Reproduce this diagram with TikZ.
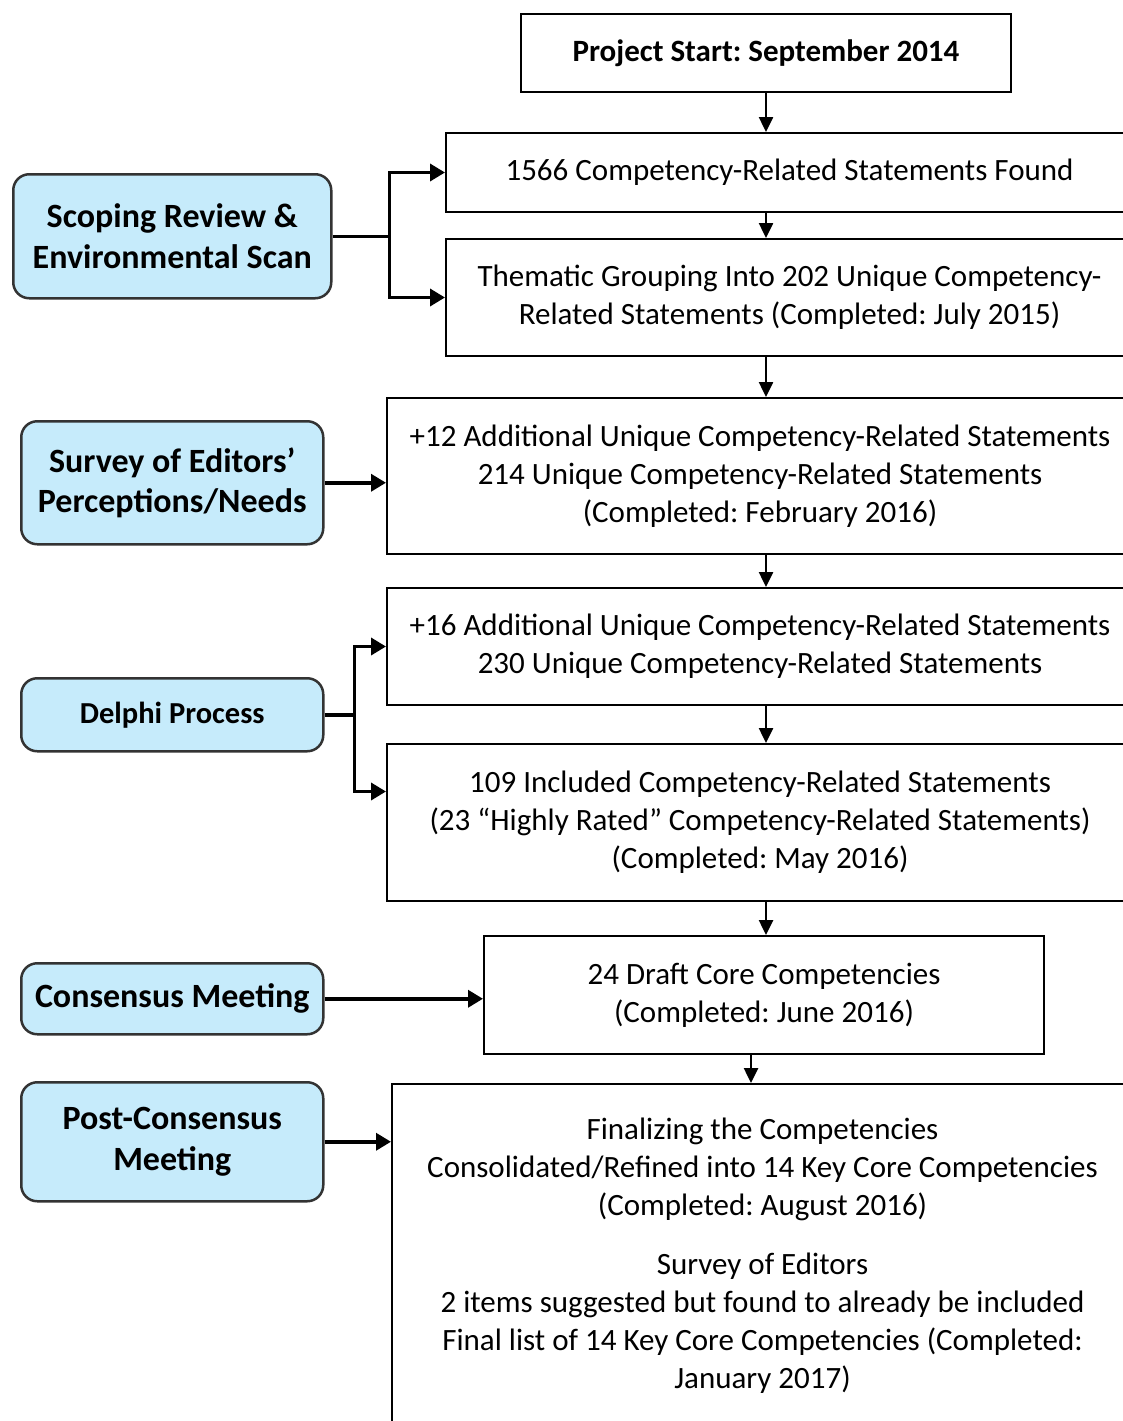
\documentclass[tikz,border=0pt]{standalone}
\usepackage{fontspec}
\setmainfont{Carlito}
\frenchspacing
\usetikzlibrary{arrows.meta}
\definecolor{sideblue}{HTML}{C6EBFB}
\tikzset{
  boxsize/.style 2 args={minimum width=#1pt, minimum height=#2pt},
  stagebox/.style={draw=black, line width=2pt, fill=white, inner sep=0pt,
    align=center, anchor=north west, font=\fontsize{31}{38}\selectfont},
  sidebox/.style={draw=black!80, line width=2.5pt, fill=sideblue,
    rounded corners=16pt, inner sep=0pt, align=center, anchor=north west,
    font=\fontsize{34}{40.5}\selectfont\bfseries},
  down arrow/.style={line width=2.5pt, -{Triangle[length=15pt,width=14pt]}},
  side line/.style={line width=3.5pt},
  side arrow/.style={side line, -{Triangle[length=15pt,width=17pt]}}
}

\begin{document}
\begin{tikzpicture}[x=1pt, y=-1pt]

  % Page frame (one unit per pixel of the layout)
  \useasboundingbox (0,0) rectangle (1122,1421);

  % Stages of the project, top to bottom
  \node[stagebox, boxsize={490}{78}, font=\fontsize{31}{38}\selectfont\bfseries]
    (start) at (520,13) {Project Start: September 2014};
  \node[stagebox, boxsize={687}{79}] (found) at (445,132)
    {1566 Competency-Related Statements Found};
  \node[stagebox, boxsize={687}{117}] (thematic) at (445,238)
    {Thematic Grouping Into 202 Unique Competency-\\Related Statements (Completed: July 2015)};
  \node[stagebox, boxsize={746}{156}] (plus12) at (386,397)
    {+12 Additional Unique Competency-Related Statements\\214 Unique Competency-Related Statements\\(Completed: February 2016)};
  \node[stagebox, boxsize={746}{117}] (plus16) at (386,587)
    {+16 Additional Unique Competency-Related Statements\\230 Unique Competency-Related Statements};
  \node[stagebox, boxsize={746}{157}] (included) at (386,743)
    {109 Included Competency-Related Statements\\(23 “Highly Rated” Competency-Related Statements)\\(Completed: May 2016)};
  \node[stagebox, boxsize={560}{118}] (draft) at (483,935)
    {24 Draft Core Competencies\\(Completed: June 2016)};
  \node[stagebox, boxsize={741}{343}] (final) at (391,1083)
    {Finalizing the Competencies\\Consolidated/Refined into 14 Key Core Competencies\\(Completed: August 2016)\\[21pt]
     Survey of Editors\\2 items suggested but found to already be included\\Final list of 14 Key Core Competencies (Completed:\\January 2017)};

  % Methods on the left
  \node[sidebox, boxsize={318}{124}] (scoping) at (12,173)
    {Scoping Review \&\\Environmental Scan};
  \node[sidebox, boxsize={302}{123}] (survey) at (20,420)
    {Survey of Editors’\\Perceptions/Needs};
  \node[sidebox, boxsize={302}{73}, font=\fontsize{30.5}{36}\selectfont\bfseries]
    (delphi) at (20,677) {Delphi Process};
  \node[sidebox, boxsize={302}{71}] (consensus) at (20,962) {Consensus Meeting};
  \node[sidebox, boxsize={302}{119}] (post) at (20,1081)
    {Post-Consensus\\Meeting};

  % Main spine
  \draw[down arrow] (start.south) -- (start.south |- found.north);
  \draw[down arrow] (start.south |- found.south) -- (start.south |- thematic.north);
  \draw[down arrow] (start.south |- thematic.south) -- (start.south |- plus12.north);
  \draw[down arrow] (start.south |- plus12.south) -- (start.south |- plus16.north);
  \draw[down arrow] (start.south |- plus16.south) -- (start.south |- included.north);
  \draw[down arrow] (start.south |- included.south) -- (start.south |- draft.north);
  \draw[down arrow] ([xshift=-13pt]draft.south) -- ([xshift=-13pt]draft.south |- final.north);

  % Methods feeding the stages
  \coordinate (scopefork) at ([xshift=57pt]scoping.east);
  \draw[side line] (scoping.east) -- (scopefork);
  \draw[side arrow] (scopefork) |- (found.west);
  \draw[side arrow] (scopefork) |- (thematic.west);

  \draw[side arrow] (survey.east) -- (survey.east -| plus12.west);

  \coordinate (delphifork) at ([xshift=30pt]delphi.east);
  \draw[side line] (delphi.east) -- (delphifork);
  \draw[side arrow] (delphifork) |- (plus16.west);
  \draw[side arrow] (delphifork) |- ([yshift=31pt]included.west);

  \draw[side arrow] (consensus.east) -- (consensus.east -| draft.west);
  \draw[side arrow] (post.east) -- (post.east -| final.west);

\end{tikzpicture}
\end{document}
